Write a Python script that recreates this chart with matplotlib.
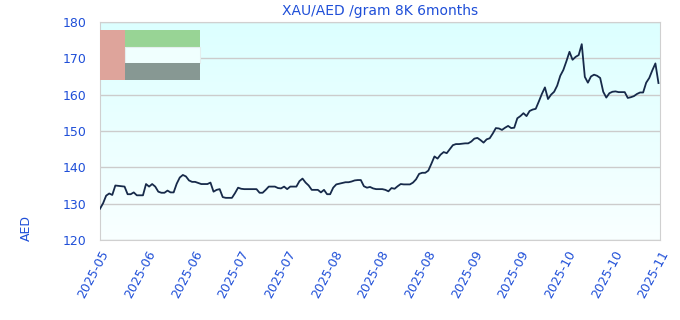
import numpy as np
import pandas as pd
import matplotlib
matplotlib.use("Agg")
import matplotlib.pyplot as plt
import matplotlib.dates as mdates
from matplotlib.patches import Rectangle
from matplotlib.colors import LinearSegmentedColormap

title = "XAU/AED /gram 8K 6months"
y_label = "AED"
start_date = "2025-05-17"
prices = [
    128.6, 130.1, 132.2, 132.8, 132.4, 135.0, 134.9, 134.8, 134.7, 132.6,
    132.6, 133.1, 132.3, 132.3, 132.3, 135.4, 134.7, 135.4, 134.7, 133.3,
    133.0, 133.0, 133.6, 133.1, 133.1, 135.5, 137.2, 137.9, 137.5, 136.4,
    136.0, 136.0, 135.7, 135.4, 135.4, 135.4, 135.8, 133.3, 133.8, 134.0,
    131.8, 131.6, 131.6, 131.6, 132.9, 134.4, 134.1, 134.0, 134.0, 134.0,
    134.0, 134.0, 133.0, 133.0, 133.8, 134.7, 134.7, 134.7, 134.3, 134.2,
    134.7, 134.0, 134.7, 134.7, 134.7, 136.2, 136.9, 135.8, 135.0, 133.8,
    133.8, 133.8, 133.1, 133.8, 132.6, 132.6, 134.4, 135.3, 135.5, 135.7,
    135.9, 135.9, 136.1, 136.4, 136.5, 136.5, 134.8, 134.4, 134.6, 134.2,
    134.0, 134.0, 134.0, 133.8, 133.4, 134.3, 134.1, 134.8, 135.4, 135.3,
    135.3, 135.3, 135.8, 136.7, 138.2, 138.5, 138.5, 139.1, 141.0, 143.0,
    142.4, 143.5, 144.2, 143.9, 145.0, 146.1, 146.4, 146.4, 146.5, 146.6,
    146.6, 147.1, 147.9, 148.1, 147.5, 146.8, 147.7, 148.0, 149.3, 150.8,
    150.7, 150.3, 150.9, 151.4, 150.8, 150.9, 153.5, 154.1, 154.9, 154.1,
    155.5, 155.9, 156.1, 158.1, 160.2, 162.0, 158.8, 160.0, 160.8, 162.5,
    165.2, 166.8, 169.2, 171.8, 169.6, 170.4, 170.9, 173.9, 164.9, 163.3,
    165.0, 165.5, 165.2, 164.6, 160.8, 159.2, 160.4, 160.8, 160.9, 160.7,
    160.7, 160.7, 159.1, 159.3, 159.6, 160.2, 160.6, 160.6, 163.3, 164.6,
    166.7, 168.6, 163.2,
]
y_ticks = [120, 130, 140, 150, 160, 170, 180]

dates = pd.date_range(start_date, periods=len(prices), freq="D")

txt_color = "#1f4fd8"
fig = plt.figure(figsize=(6.8, 3.2), dpi=100)
ax = fig.add_axes([100 / 680, 80 / 320, 560 / 680, 218 / 320])

# gradient background
grad = np.linspace(0, 1, 256).reshape(-1, 1)
cmap = LinearSegmentedColormap.from_list("bg", ["#f9ffff", "#dcffff"])
ax.imshow(grad, aspect="auto", cmap=cmap, origin="lower",
          extent=[0, 1, 0, 1], transform=ax.transAxes, zorder=0)

ax.plot(dates, prices, color="#172a4a", lw=1.3, zorder=3)

xmin = mdates.date2num(dates[0])
xmax = xmin + 182.5
ax.set_xlim(xmin, xmax)
ax.set_ylim(120, 180)
ax.set_yticks(y_ticks)
ax.set_xticks(np.linspace(xmin, xmax, 13))
ax.xaxis.set_major_formatter(mdates.DateFormatter("%Y-%m"))
ax.grid(axis="y", color="#cccccc", lw=1, zorder=1)
ax.set_axisbelow(True)

for s in ax.spines.values():
    s.set_color("#d0d0d0")
ax.tick_params(axis="both", length=0, colors=txt_color, labelsize=9)
ax.tick_params(axis="y", pad=10)
ax.tick_params(axis="x", pad=6)
for lbl in ax.get_xticklabels():
    lbl.set_rotation(62)
    lbl.set_ha("right")
    lbl.set_rotation_mode("anchor")

ax.set_title(title, color=txt_color, fontsize=10, pad=5)
ax.set_ylabel(y_label, color=txt_color, fontsize=9)
ax.yaxis.set_label_coords(-0.12, 0.055)

# broken legend blocks
tr = ax.transAxes
ax.add_patch(Rectangle((0.0, 0.734), 0.0446, 0.229, transform=tr,
                       facecolor="#dea49b", edgecolor="none", zorder=4))
ax.add_patch(Rectangle((0.0446, 0.885), 0.134, 0.078, transform=tr,
                       facecolor="#98d495", edgecolor="none", zorder=4))
ax.add_patch(Rectangle((0.0446, 0.812), 0.134, 0.073, transform=tr,
                       facecolor="#f0fffe", edgecolor="#e4eeee", lw=0.8, zorder=4))
ax.add_patch(Rectangle((0.0446, 0.734), 0.134, 0.078, transform=tr,
                       facecolor="#879893", edgecolor="none", zorder=4))

fig.savefig("out.png", dpi=100)
